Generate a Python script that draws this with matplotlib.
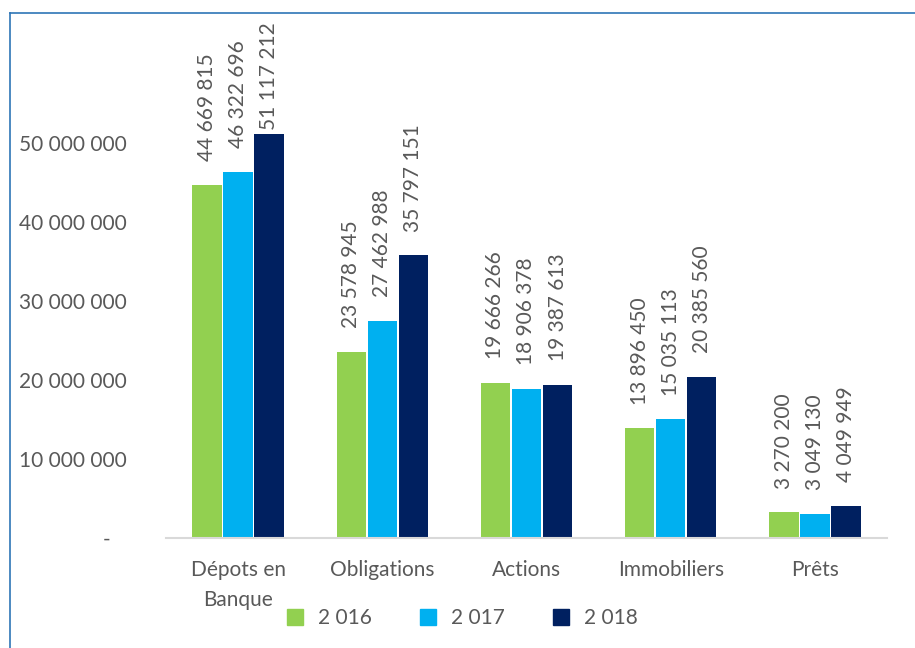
import matplotlib
matplotlib.use("Agg")
import matplotlib.pyplot as plt
from matplotlib.lines import Line2D
import numpy as np

# data
categories = ["Dépots en\nBanque", "Obligations", "Actions", "Immobiliers", "Prêts"]
years = ["2 016", "2 017", "2 018"]
v2016 = [44669815, 23578945, 19666266, 13896450, 3270200]
v2017 = [46322696, 27462988, 18906378, 15035113, 3049130]
v2018 = [51117212, 35797151, 19387613, 20385560, 4049949]
yticks = [0, 10000000, 20000000, 30000000, 40000000, 50000000]

colors = ["#92d050", "#00b0f0", "#002060"]
text_col = "#595959"
plt.rcParams["font.family"] = ["Lato", "DejaVu Sans"]
FS = 15


def fmt(v):
    return f"{v:,}".replace(",", " ")


fig = plt.figure(figsize=(9.15, 6.48), dpi=100)
ax = fig.add_axes([166 / 915, 1 - 538 / 648, (887 - 166) / 915, (538 - 64) / 648])

x = np.arange(len(categories))
w = 0.205
series = [v2016, v2017, v2018]
labels = []
for i, vals in enumerate(series):
    pos = x + (i - 1) * (w + 0.01)
    bars = ax.bar(pos, vals, width=w, color=colors[i], label=years[i], zorder=2)
    for b, v in zip(bars, vals):
        t = ax.annotate(fmt(v), (b.get_x() + b.get_width() / 2, v), xytext=(0, 17),
                        textcoords="offset points", rotation=90, ha="center", va="bottom",
                        fontsize=FS, color=text_col, annotation_clip=False)
        labels.append(t)

ax.set_xlim(-0.5, len(categories) - 0.5)
ax.set_ylim(0, 60000000)
ax.set_yticks(yticks)
# accounting style: the zero dash sits a bit left of the right edge
ax.set_yticklabels(["-   "] + [fmt(t) for t in yticks[1:]])
ax.set_xticks(x)
ax.set_xticklabels(categories)
ax.tick_params(axis="both", length=0, labelsize=FS, colors=text_col)
ax.tick_params(axis="y", pad=28)
ax.tick_params(axis="x", pad=16)
for lab in ax.get_xticklabels():
    lab.set_linespacing(1.6)
for s in ["top", "right", "left"]:
    ax.spines[s].set_visible(False)
ax.spines["bottom"].set_color("#d9d9d9")
ax.spines["bottom"].set_linewidth(1.5)

handles = [Line2D([], [], marker="s", linestyle="none", markersize=12,
                  color=c) for c in colors]
fig.legend(handles, years, loc="center", bbox_to_anchor=(461 / 915, 1 - 618 / 648),
           ncol=3, frameon=False, fontsize=FS, labelcolor=text_col,
           handletextpad=0.6, columnspacing=2.2, handlelength=1.0)

# blue frame of the original chart box
frame = "#2e75b6"
fig.add_artist(Line2D([10 / 915, 10 / 915], [0, 1 - 13 / 648], color=frame, lw=1.2))
fig.add_artist(Line2D([10 / 915, 1], [1 - 13 / 648, 1 - 13 / 648], color=frame, lw=1.2))

# keep value labels inside the chart box (shift down the ones that overflow)
fig.canvas.draw()
top_limit = 648 - 22
for t in labels:
    bb = t.get_window_extent()
    if bb.y1 > top_limit:
        dx, dy = t.xyann
        t.xyann = (dx, dy - (bb.y1 - top_limit) * 72 / fig.dpi)

fig.savefig("out.png", dpi=100)
